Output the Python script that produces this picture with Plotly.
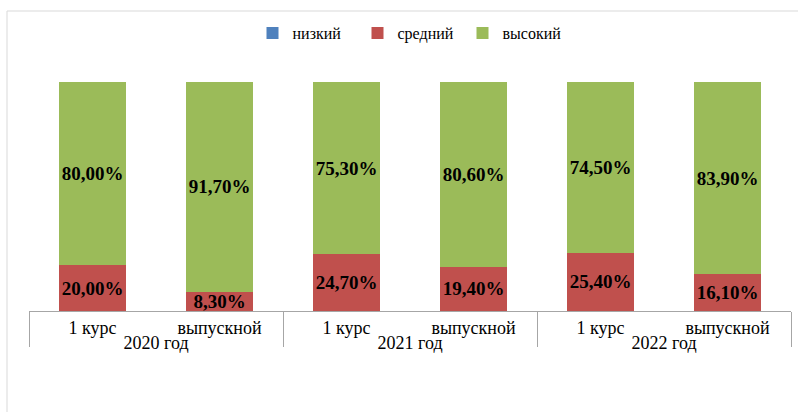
import plotly.graph_objects as go

years = ["2020 год", "2020 год", "2021 год", "2021 год", "2022 год", "2022 год"]
courses = ["1 курс", "выпускной", "1 курс", "выпускной", "1 курс", "выпускной"]
low = [0, 0, 0, 0, 0, 0]
mid = [20.0, 8.3, 24.7, 19.4, 25.4, 16.1]
high = [80.0, 91.7, 75.3, 80.6, 74.5, 83.9]

series = [("низкий", low, "#4F81BD"), ("средний", mid, "#C0504D"), ("высокий", high, "#9BBB59")]
SERIF = "Liberation Serif, Times New Roman, serif"
GREY = "#A6A6A6"

def fmt(v):
    return "" if v == 0 else f"{v:.2f}".replace(".", ",") + "%"

keys = [f"{y} | {c}" for y, c in zip(years, courses)]

# group centres and boundaries (index positions on the category axis)
groups = []
for i, y in enumerate(years):
    if not groups or groups[-1][0] != y:
        groups.append([y, i, i])
    else:
        groups[-1][2] = i
group_centers = [(a + b) / 2 for _, a, b in groups]
group_names = [g[0] for g in groups]
boundaries = [groups[0][1] - 0.5] + [b + 0.5 for _, _, b in groups]

fig = go.Figure()
for name, vals, color in series:
    fig.add_trace(go.Bar(
        name=name, x=keys, y=vals,
        marker=dict(color=color, line=dict(width=0)),
        text=[fmt(v) for v in vals], textposition="inside",
        insidetextanchor="middle", textangle=0, constraintext="none",
        textfont=dict(family=SERIF, size=19, color="black", weight="bold"),
        hoverinfo="skip",
    ))
fig.add_trace(go.Scatter(x=[], y=[], xaxis="x2", showlegend=False, hoverinfo="skip"))

fig.update_layout(
    barmode="stack", bargap=0.48,
    width=798, height=412,
    margin=dict(l=29, r=7, t=82, b=101, autoexpand=False),
    paper_bgcolor="white", plot_bgcolor="white",
    font=dict(family=SERIF, size=18, color="black"),
    legend=dict(orientation="h", x=0.5, xanchor="center", y=1.214, yanchor="middle",
                font=dict(family=SERIF, size=16, color="black"), traceorder="normal",
                entrywidth=60, entrywidthmode="pixels"),
    xaxis=dict(type="category", tickvals=keys, ticktext=courses,
               showline=True, linecolor=GREY, linewidth=1, showgrid=False,
               ticks="", automargin=False,
               tickfont=dict(family=SERIF, size=18, color="black")),
    xaxis2=dict(overlaying="x", anchor="y", side="bottom", type="linear",
                range=[boundaries[0], boundaries[-1]], showgrid=False, showline=False,
                zeroline=False, tickmode="array", tickvals=group_centers, ticktext=group_names,
                ticks="", ticklabelstandoff=19, automargin=False,
                minor=dict(tickmode="array", tickvals=boundaries, ticks="outside",
                           ticklen=35, tickcolor=GREY, tickwidth=1, showgrid=False),
                tickfont=dict(family=SERIF, size=18, color="black")),
    yaxis=dict(visible=False, range=[0, 100]),
    shapes=[dict(type="rect", xref="paper", yref="paper",
                 x0=(7 - 29) / 762, x1=1.2, y0=-0.6, y1=(311 - 11) / 229,
                 line=dict(color="#D9D9D9", width=1), fillcolor="rgba(0,0,0,0)", layer="below")],
)

fig.write_html("out.html", config={"displayModeBar": False},
               post_script="document.body.style.margin='0';document.body.style.overflow='hidden';")
